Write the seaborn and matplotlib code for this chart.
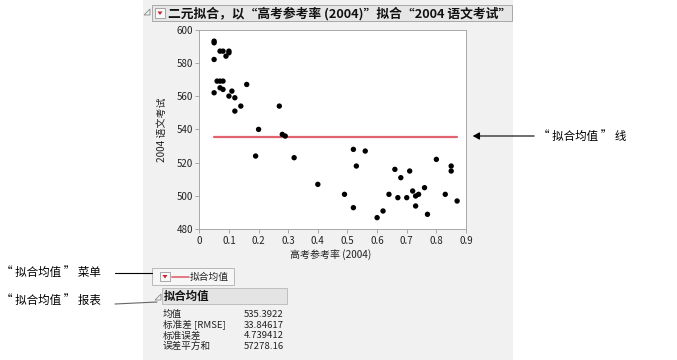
import numpy as np
import pandas as pd
import matplotlib
matplotlib.use("Agg")
import matplotlib.pyplot as plt
from matplotlib.patches import Rectangle, Polygon, FancyArrowPatch
import seaborn as sns

# data
participation = [0.05, 0.05, 0.05, 0.07, 0.08, 0.10, 0.10, 0.09, 0.06, 0.07,
                 0.08, 0.16, 0.05, 0.07, 0.08, 0.11, 0.10, 0.12, 0.14, 0.12,
                 0.27, 0.20, 0.28, 0.29, 0.19, 0.32, 0.40, 0.49, 0.52, 0.53,
                 0.56, 0.52, 0.60, 0.62, 0.64, 0.66, 0.67, 0.68, 0.70, 0.71,
                 0.72, 0.73, 0.74, 0.73, 0.76, 0.77, 0.80, 0.83, 0.85, 0.85,
                 0.87]
scores = [593, 592, 582, 587, 587, 587, 586, 584, 569, 569,
          569, 567, 562, 565, 564, 563, 560, 559, 554, 551,
          554, 540, 537, 536, 524, 523, 507, 501, 528, 518,
          527, 493, 487, 491, 501, 516, 499, 511, 499, 515,
          503, 500, 501, 494, 505, 489, 522, 501, 518, 515,
          497]
fit_mean = 535.3922
stat_labels = ["均值", "标准差 [RMSE]", "标准误差", "误差平方和"]
stat_values = ["535.3922", "33.84617", "4.739412", "57278.16"]
x_ticks = [0, 0.1, 0.2, 0.3, 0.4, 0.5, 0.6, 0.7, 0.8, 0.9]
y_ticks = [480, 500, 520, 540, 560, 580, 600]

df = pd.DataFrame({"x": participation, "y": scores})
mean_df = pd.DataFrame({"x": [min(participation), max(participation)],
                        "y": [fit_mean, fit_mean]})

sns.set_theme(style="white")
plt.rcParams['font.family'] = ['Noto Sans CJK SC', 'DejaVu Sans']

W, H = 677, 360
fig = plt.figure(figsize=(W / 100, H / 100), dpi=100)
fig.patch.set_facecolor("white")


def fx(x):
    return x / W


def fy(y):
    return 1 - y / H


def box(x0, y0, x1, y1, **kw):
    fig.patches.append(Rectangle((fx(x0), fy(y1)), fx(x1) - fx(x0), fy(y0) - fy(y1),
                                 transform=fig.transFigure, **kw))


def dropdown(x0, y0):
    box(x0, y0, x0 + 10, y0 + 9, facecolor="#f8f8f8", edgecolor="#9a9a9a", lw=0.6)
    fig.patches.append(Polygon([(fx(x0 + 2.5), fy(y0 + 3)), (fx(x0 + 7.5), fy(y0 + 3)),
                                (fx(x0 + 5), fy(y0 + 6.5))], closed=True,
                               transform=fig.transFigure, facecolor="#d0202a", edgecolor="none"))


def disclosure(x0, y0):
    fig.patches.append(Polygon([(fx(x0 + 6), fy(y0)), (fx(x0 + 6), fy(y0 + 6)), (fx(x0), fy(y0 + 6))],
                               closed=True, transform=fig.transFigure,
                               facecolor="none", edgecolor="#8a8a8a", lw=0.6))


# grey report panel
box(143, 0, 513, 360, facecolor="#f1f1f1", edgecolor="none", zorder=0)

# title bar
box(152, 5, 512, 21, facecolor="#e6e6e6", edgecolor="#a8a8a8", lw=0.7)
disclosure(144, 9)
dropdown(155, 8.5)
fig.text(fx(168), fy(13.5), "二元拟合，以“高考参考率 (2004)”拟合“2004 语文考试”",
         fontsize=9.2, fontweight="bold", va="center", ha="left", color="#111111")

# scatter plot
ax = fig.add_axes([fx(199.3), fy(229.3), fx(466) - fx(199.3), fy(29.5) - fy(229.3)])
ax.set_zorder(5)
ax.set_facecolor("white")
sns.scatterplot(data=df, x="x", y="y", ax=ax, color="black", s=15,
                edgecolor="none", linewidth=0, zorder=3)
sns.lineplot(data=mean_df, x="x", y="y", ax=ax, color="#e0636f", lw=1.6, zorder=2)
ax.set_xlim(0, 0.9)
ax.set_ylim(480, 600)
ax.set_xticks(x_ticks)
ax.set_xticklabels([f"{t:g}" for t in x_ticks])
ax.set_yticks(y_ticks)
ax.tick_params(axis="both", direction="out", length=3, width=0.6, color="#9a9a9a",
               labelsize=7, labelcolor="#222222", pad=1.5, bottom=True, left=True)
for sp in ax.spines.values():
    sp.set_color("#a8a8a8")
    sp.set_linewidth(0.7)
ax.set_xlabel("")
ax.set_ylabel("")
fig.text(fx(331), fy(255), "高考参考率 (2004)", fontsize=7.2, ha="center", va="center", color="#222222")
fig.text(fx(162), fy(130), "2004 语文考试", fontsize=7.2, rotation=90, ha="center", va="center",
         color="#222222")

# legend box
box(152, 268, 234, 285, facecolor="#f6f6f6", edgecolor="#b0b0b0", lw=0.6)
dropdown(160, 272)
fig.lines.append(plt.Line2D([fx(172), fx(189)], [fy(277), fy(277)], transform=fig.transFigure,
                            color="#e0636f", lw=1.2))
fig.text(fx(190), fy(277), "拟合均值", fontsize=7, ha="left", va="center", color="#222222")

# fit mean report
disclosure(155, 294)
box(162, 288, 287, 304, facecolor="#e4e4e4", edgecolor="#b8b8b8", lw=0.6)
fig.text(fx(164), fy(296), "拟合均值", fontsize=8.2, fontweight="bold", ha="left", va="center",
         color="#111111")
row_y = [314.5, 325.5, 336, 346.5]
for lab, val, yy in zip(stat_labels, stat_values, row_y):
    fig.text(fx(163), fy(yy), lab, fontsize=6.9, ha="left", va="center", color="#222222")
    fig.text(fx(284), fy(yy), val, fontsize=6.9, ha="right", va="center", color="#222222")

# callouts
fig.text(fx(1), fy(272), "“ 拟合均值 ” 菜单", fontsize=8.3, ha="left", va="center", color="black")
fig.lines.append(plt.Line2D([fx(115), fx(152)], [fy(273), fy(273)], transform=fig.transFigure,
                            color="black", lw=0.8))
fig.text(fx(1), fy(300), "“ 拟合均值 ” 报表", fontsize=8.3, ha="left", va="center", color="black")
fig.lines.append(plt.Line2D([fx(115), fx(157)], [fy(304), fy(302)], transform=fig.transFigure,
                            color="#666666", lw=0.8))
fig.text(fx(538), fy(136), "“ 拟合均值 ” 线", fontsize=8.3, ha="left", va="center", color="black")
fig.patches.append(FancyArrowPatch(
    (fx(537), fy(136)), (fx(470), fy(136)), transform=fig.transFigure,
    arrowstyle="-|>,head_length=4,head_width=2.2", color="black", lw=0.8))

fig.savefig("out.png", dpi=100, facecolor=fig.get_facecolor())
